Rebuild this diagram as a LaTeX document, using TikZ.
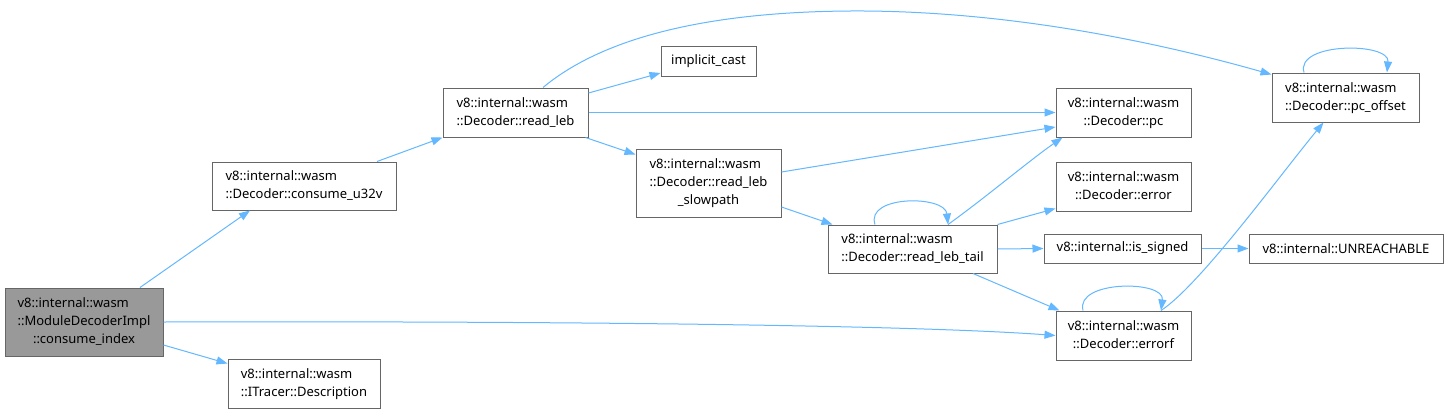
\documentclass[tikz,border=0pt]{standalone}
\usepackage{fontspec}
\setmainfont{Noto Sans}
\usetikzlibrary{arrows.meta}
\definecolor{edgeblue}{HTML}{63B8FF}
\definecolor{boxborder}{HTML}{666666}
\definecolor{boxgray}{HTML}{999999}
\newcommand\twol[2]{\begin{tabular}{@{}l@{}}#1\\\multicolumn{1}{@{}c@{}}{#2}\end{tabular}}
\newcommand\threel[3]{\begin{tabular}{@{}l@{}}#1\\#2\\\multicolumn{1}{@{}c@{}}{#3}\end{tabular}}
\begin{document}
\begin{tikzpicture}[x=1pt,y=-1pt,
  box/.style={draw=boxborder, fill=white, line width=1pt, rectangle, inner sep=0pt,
    font=\fontsize{13}{18}\selectfont, align=center},
  edge/.style={draw=edgeblue, line width=1pt, -{Triangle[length=11pt,width=8pt]}}]
\useasboundingbox (0,0) rectangle (1448,413);
\fill[white] (0,0) rectangle (1448,413);
% nodes
\node[box, fill=boxgray, minimum width=158pt, minimum height=68pt] (ci) at (84,322)
  {\threel{v8::internal::wasm}{::ModuleDecoderImpl}{::consume\_index}};
\node[box, minimum width=152pt, minimum height=49pt] (itr) at (304,383.5)
  {\twol{v8::internal::wasm}{::ITracer::Description}};
\node[box, minimum width=184pt, minimum height=48pt] (u32) at (304,186)
  {\twol{v8::internal::wasm}{::Decoder::consume\_u32v}};
\node[box, minimum width=145pt, minimum height=49pt] (rl) at (515.5,112.5)
  {\twol{v8::internal::wasm}{::Decoder::read\_leb}};
\node[box, minimum width=95pt, minimum height=30pt] (ic) at (708.5,61)
  {implicit\_cast};
\node[box, minimum width=145pt, minimum height=68pt] (rls) at (708.5,183)
  {\threel{v8::internal::wasm}{::Decoder::read\_leb}{\_slowpath}};
\node[box, minimum width=169pt, minimum height=48pt] (rlt) at (912.5,249)
  {\twol{v8::internal::wasm}{::Decoder::read\_leb\_tail}};
\node[box, minimum width=135pt, minimum height=49pt] (pc) at (1123.5,112.5)
  {\twol{v8::internal::wasm}{::Decoder::pc}};
\node[box, minimum width=135pt, minimum height=49pt] (err) at (1123.5,186.5)
  {\twol{v8::internal::wasm}{::Decoder::error}};
\node[box, minimum width=135pt, minimum height=49pt] (errf) at (1123.5,335.5)
  {\twol{v8::internal::wasm}{::Decoder::errorf}};
\node[box, minimum width=147pt, minimum height=49pt] (pco) at (1345.5,97.5)
  {\twol{v8::internal::wasm}{::Decoder::pc\_offset}};
\node[box, minimum width=157pt, minimum height=29pt] (iss) at (1122.5,248.5)
  {v8::internal::is\_signed};
\node[box, minimum width=194pt, minimum height=29pt] (unr) at (1346,248.5)
  {v8::internal::UNREACHABLE};
% edges
\draw[edge] ([xshift=56pt]ci.north) -- ([xshift=-54pt]u32.south);
\draw[edge] ([yshift=-23pt]ci.east) -- ([yshift=20pt]itr.west);
\draw[edge] (ci.east) .. controls (500,321) and (900,324) .. (errf.west);
\draw[edge] ([xshift=73pt]u32.north) -- (rl.south west);
\draw[edge] ([yshift=19.5pt]rl.east) -- ([yshift=-12pt]ic.west);
\draw[edge] (rl.east) -- (pc.west);
\draw[edge] ([xshift=-3pt]rl.south east) -- ([yshift=-6pt]rls.north west);
\draw[edge] ([xshift=27.5pt]rl.north) .. controls (600,40) and (700,12) .. (850,11)
  .. controls (1000,10) and (1150,40) .. ([yshift=-2pt]pco.north west);
\draw[edge] ([yshift=11pt]rls.east) -- ([yshift=-14.5pt]pc.west);
\draw[edge] ([yshift=-24pt]rls.east) -- ([xshift=5pt]rlt.north west);
\draw[edge] ([xshift=-37.5pt]rlt.north) .. controls (865,195) and (945,195) .. ([xshift=35.5pt]rlt.north);
\draw[edge] ([xshift=35.5pt]rlt.north) .. controls (985,198) and (1030,160) .. ([xshift=7pt]pc.south west);
\draw[edge] (rlt.north east) -- ([yshift=3pt]err.south west);
\draw[edge] (rlt.east) -- (iss.west);
\draw[edge] ([xshift=60.5pt]rlt.south) -- ([xshift=4pt]errf.north west);
\draw[edge] (iss.east) -- (unr.west);
\draw[edge] ([xshift=-40.5pt]errf.north) .. controls (1075,280) and (1165,280) .. ([xshift=37.5pt]errf.north);
\draw[edge] ([xshift=37.5pt]errf.north) .. controls (1200,285) and (1280,175) .. ([xshift=-22pt]pco.south);
\draw[edge] ([xshift=-41.5pt]pco.north) .. controls (1295,42) and (1390,42) .. ([xshift=41.5pt]pco.north);
\end{tikzpicture}
\end{document}
